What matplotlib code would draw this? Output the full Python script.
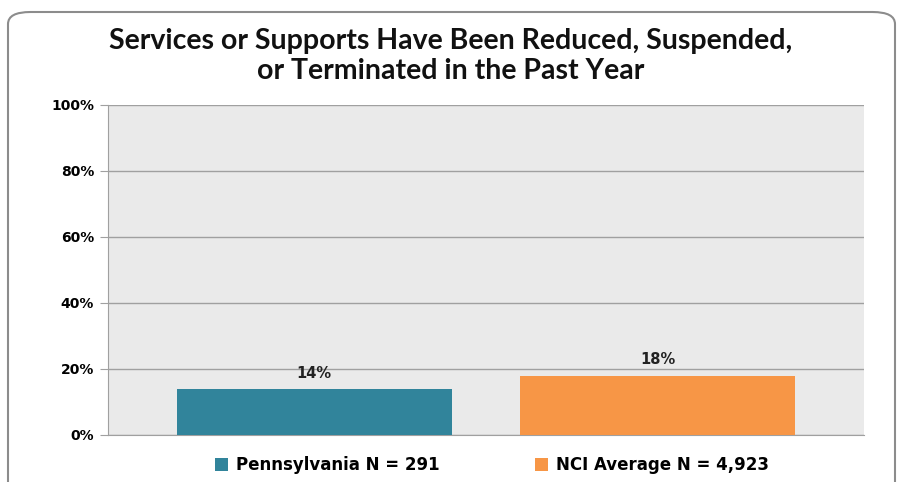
import matplotlib
matplotlib.use("Agg")
import matplotlib.pyplot as plt
from matplotlib.patches import FancyBboxPatch, Rectangle

title = "Services or Supports Have Been Reduced, Suspended,\nor Terminated in the Past Year"
series_labels = ["Pennsylvania N = 291", "NCI Average N = 4,923"]
values = [14, 18]
colors = ["#31849B", "#F79646"]
yticks = [0, 20, 40, 60, 80, 100]
ytick_labels = ["0%", "20%", "40%", "60%", "80%", "100%"]

fig = plt.figure(figsize=(9.01, 4.82), dpi=100)
W, H = 901, 482

# rounded frame
frame = FancyBboxPatch((8 / W, -20 / H), (887 / W), (482 - 12 + 20) / H,
                       boxstyle="round,pad=0,rounding_size=0.025",
                       transform=fig.transFigure, facecolor="white",
                       edgecolor="#8C8C8C", linewidth=1.5, zorder=-5)
fig.patches.append(frame)

ax = fig.add_axes([108 / W, 1 - 435 / H, (864 - 108) / W, (435 - 105) / H])
ax.set_zorder(2)
ax.set_facecolor("#EAEAEA")
x = [0, 1]
bars = ax.bar(x, values, width=0.8, color=colors, zorder=3)
ax.set_xlim(-0.6, 1.6)
ax.set_ylim(0, 100)
ax.set_yticks(yticks)
ax.set_yticklabels(ytick_labels, fontsize=10, fontweight="bold", family="DejaVu Sans")
ax.set_xticks([])
ax.grid(axis="y", color="#A0A0A0", linewidth=1, zorder=1)
for s in ["top", "right"]:
    ax.spines[s].set_visible(False)
for s in ["left", "bottom"]:
    ax.spines[s].set_color("#A0A0A0")
ax.tick_params(axis="y", length=6, color="#A0A0A0", pad=4)

for xi, v in zip(x, values):
    ax.text(xi, v + 2.5, f"{v}%", ha="center", va="bottom", fontsize=10.5,
            fontweight="bold", family="DejaVu Sans", color="#222222")

fig.text(0.5, 1 - 56 / H, title, ha="center", va="center", fontsize=20.5,
         fontweight="bold", family=["Lato", "DejaVu Sans"],
         linespacing=1.15, color="#111111", zorder=3)

handles = [Rectangle((0, 0), 1, 1, facecolor=c) for c in colors]
leg = fig.legend(handles, series_labels, loc="center", bbox_to_anchor=(492 / W, 1 - 465 / H),
                 ncol=2, frameon=False, prop={"family": "DejaVu Sans", "weight": "bold", "size": 12},
                 handlelength=0.8, handleheight=0.8, handletextpad=0.5, columnspacing=5.7)
leg.set_zorder(3)

fig.savefig("out.png", dpi=100)
